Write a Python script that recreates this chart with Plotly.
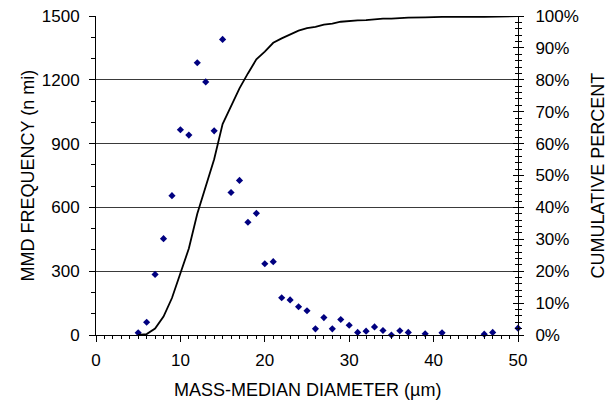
import plotly.graph_objects as go

# MMD frequency points (diameter in µm, frequency in n mi)
diameter = [5, 6, 7, 8, 9, 10, 11, 12, 13, 14, 15, 16, 17, 18, 19, 20, 21, 22, 23, 24,
            25, 26, 27, 28, 29, 30, 31, 32, 33, 34, 35, 36, 37, 39, 41, 46, 47, 50]
frequency = [10, 60, 285, 453, 655, 965, 940, 1280, 1190, 960, 1390, 670, 727, 530, 572,
             335, 345, 175, 165, 133, 114, 29, 82, 29, 73, 46, 12, 18, 38, 21, 0, 20, 12,
             6, 10, 4, 12, 32]
# cumulative percent
cumulative = [0, 0.3, 2.0, 5.8, 11.6, 19.5, 27.1, 38.0, 46.8, 55.1, 66.1, 71.7, 77.3, 82.0,
              86.4, 88.8, 91.6, 93.0, 94.3, 95.4, 96.2, 96.6, 97.3, 97.6, 98.2, 98.5, 98.6,
              98.7, 99.0, 99.2, 99.2, 99.4, 99.5, 99.6, 99.7, 99.7, 99.8, 100]

x_title = "MASS-MEDIAN DIAMETER (µm)"
y_title = "MMD FREQUENCY (n mi)"
y2_title = "CUMULATIVE PERCENT"

FONT = "Arial, Liberation Sans, sans-serif"

fig = go.Figure()
fig.add_trace(go.Scatter(
    x=diameter, y=[c / 100 for c in cumulative], yaxis="y2", mode="lines",
    line=dict(color="black", width=1.8), cliponaxis=False, hoverinfo="skip"))
fig.add_trace(go.Scatter(
    x=diameter, y=frequency, mode="markers",
    marker=dict(symbol="diamond", size=5.5, color="#000080"), cliponaxis=False))
fig.add_trace(go.Scatter(x=[], y=[], yaxis="y3", showlegend=False))

fig.update_layout(
    width=613, height=402,
    margin=dict(l=96, r=95, t=16, b=67, autoexpand=False),
    paper_bgcolor="white", plot_bgcolor="white",
    showlegend=False,
    font=dict(family=FONT, size=17, color="black"),
    xaxis=dict(range=[0, 50], dtick=10, tick0=0, showgrid=False, zeroline=False,
               showline=True, linecolor="black", linewidth=1, automargin=False,
               ticks="outside", ticklen=6, tickcolor="black",
               minor=dict(dtick=1, ticks="outside", ticklen=3, tickcolor="black", showgrid=False),
               ticklabelstandoff=4, fixedrange=True),
    yaxis=dict(range=[0, 1500], dtick=300, tick0=0, showgrid=True, gridcolor="#3a3a3a",
               gridwidth=1, zeroline=False, showline=True, linecolor="black", linewidth=1,
               automargin=False, ticks="outside", ticklen=6, tickcolor="black",
               minor=dict(dtick=100, ticks="outside", ticklen=4, tickcolor="black", showgrid=False),
               ticklabelstandoff=6, fixedrange=True),
    yaxis2=dict(range=[0, 1], dtick=0.1, tick0=0, tickformat=".0%", overlaying="y",
                side="right", showgrid=False, zeroline=False, showline=True, automargin=False,
                linecolor="black", linewidth=1, ticks="outside", ticklen=5, tickcolor="black",
                minor=dict(dtick=0.02, ticks="outside", ticklen=3, tickcolor="black"),
                ticklabelstandoff=8, fixedrange=True),
    yaxis3=dict(range=[0, 1], dtick=0.1, overlaying="y", side="right", showgrid=False,
                zeroline=False, showline=False, showticklabels=False, automargin=False,
                ticks="inside", ticklen=5, tickcolor="black",
                minor=dict(dtick=0.02, ticks="inside", ticklen=3, tickcolor="black"),
                fixedrange=True),
    annotations=[
        dict(text=x_title, xref="paper", yref="paper", x=0.5, y=(335 - 390) / 319,
             xanchor="center", yanchor="middle", showarrow=False, font=dict(size=18)),
        dict(text=y_title, xref="paper", yref="paper", x=(27 - 96) / 422, y=0.5,
             xanchor="center", yanchor="middle", showarrow=False, textangle=-90,
             font=dict(size=18)),
        dict(text=y2_title, xref="paper", yref="paper", x=(597 - 96) / 422, y=0.5,
             xanchor="center", yanchor="middle", showarrow=False, textangle=-90,
             font=dict(size=18)),
    ],
)

fig.write_html("out.html", config={"displayModeBar": False},
               post_script="document.body.style.margin='0';document.body.style.overflow='hidden';")
